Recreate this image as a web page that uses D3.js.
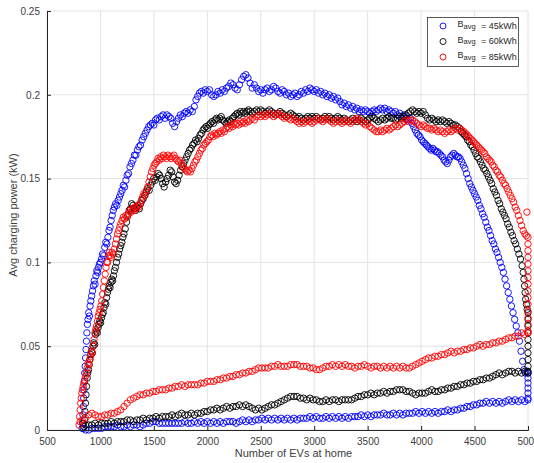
<!DOCTYPE html>
<html>
<head>
<meta charset="utf-8">
<script src="https://cdn.jsdelivr.net/npm/d3@7"></script>
<style>
  html, body { margin: 0; padding: 0; background: #fff; }
  svg { display: block; }
  text { font-family: "Liberation Sans", Arial, Helvetica, sans-serif; }
</style>
</head>
<body>
<svg id="chart" width="534" height="463"></svg>
<script>
// Axis ticks
const xTicks = [500, 1000, 1500, 2000, 2500, 3000, 3500, 4000, 4500, 5000];
const yTicks = [0, 0.05, 0.1, 0.15, 0.2, 0.25];
const yTickLabels = ["0", "0.05", "0.1", "0.15", "0.2", "0.25"];

// Series legend entries
const seriesNames = ["45kWh", "60kWh", "85kWh"];
const seriesColors = ["#0000ff", "#000000", "#ff0000"];

// B_avg = 45kWh : [EVs at home, avg charging power kW]
const blueUpper = [
  [828,.001],[832,.004],[836,.009],[840,.014],[843,.019],[846,.024],[850,.029],[853,.034],[857,.038],[861,.043],
  [865,.048],[869,.053],[873,.058],[878,.063],[884,.066],[890,.070],[897,.068],[903,.074],[910,.077],[918,.080],
  [926,.083],[934,.086],[942,.089],[950,.087],[958,.092],[966,.095],[974,.094],[982,.097],[990,.099],[1000,.100],
  [1010,.102],[1020,.105],[1030,.104],[1040,.109],[1050,.112],[1060,.111],[1070,.115],[1080,.119],[1090,.121],[1100,.125],
  [1110,.128],[1120,.131],[1130,.133],[1142,.135],[1154,.134],[1166,.137],[1178,.139],[1190,.141],[1202,.143],[1214,.146],
  [1226,.145],[1238,.149],[1250,.152],[1263,.153],[1276,.157],[1290,.159],[1304,.161],[1318,.164],[1332,.164],[1346,.167],
  [1360,.169],[1375,.170],[1390,.173],[1405,.175],[1420,.177],[1436,.179],[1452,.181],[1468,.182],[1484,.183],[1500,.182],
  [1516,.185],[1532,.186],[1550,.185],[1568,.187],[1586,.188],[1604,.186],[1622,.188],[1640,.187],[1658,.186],[1676,.183],
  [1694,.181],[1712,.184],[1730,.186],[1748,.188],[1766,.187],[1784,.189],[1802,.190],[1820,.189],[1840,.191],[1860,.190],
  [1878,.193],[1894,.197],[1910,.199],[1926,.201],[1944,.202],[1962,.201],[1980,.203],[2000,.202],[2020,.203],[2040,.200],
  [2060,.199],[2080,.200],[2100,.202],[2120,.201],[2140,.203],[2160,.202],[2180,.204],[2200,.205],[2220,.207],[2240,.206],
  [2260,.204],[2280,.203],[2300,.206],[2320,.209],[2340,.211],[2360,.212],[2380,.210],[2400,.207],[2420,.204],[2440,.206],
  [2460,.204],[2480,.202],[2500,.203],[2520,.201],[2540,.203],[2560,.204],[2580,.202],[2600,.203],[2620,.205],[2640,.204],
  [2660,.202],[2680,.201],[2700,.203],[2720,.202],[2740,.200],[2760,.201],[2780,.199],[2800,.200],[2820,.201],[2840,.199],
  [2860,.200],[2880,.202],[2900,.201],[2920,.203],[2940,.202],[2960,.204],[2980,.203],[3000,.202],[3020,.203],[3040,.201],
  [3060,.202],[3080,.200],[3100,.201],[3120,.199],[3140,.200],[3160,.198],[3180,.199],[3200,.197],[3220,.198],[3240,.196],
  [3260,.194],[3280,.195],[3300,.193],[3320,.194],[3340,.192],[3360,.193],[3380,.191],[3400,.192],[3420,.190],[3440,.191],
  [3460,.190],[3480,.191],[3500,.190],[3520,.189],[3540,.190],[3560,.191],[3580,.190],[3600,.191],[3620,.192],[3640,.191],
  [3660,.192],[3680,.190],[3700,.191],[3720,.190],[3740,.189],[3760,.190],[3780,.188],[3800,.189],[3820,.187],[3840,.188],
  [3860,.186],[3880,.185],[3900,.186],[3915,.183],[3930,.181],[3945,.179],[3960,.177],[3975,.176],[3990,.175],[4005,.173],
  [4020,.172],[4035,.171],[4050,.170],[4065,.169],[4080,.168],[4095,.167],[4110,.168],[4125,.167],[4140,.166],[4155,.166],
  [4170,.165],[4185,.164],[4200,.163],[4215,.161],[4230,.160],[4245,.159],[4260,.161],[4275,.163],[4290,.164],[4305,.165],
  [4320,.164],[4335,.163],[4350,.163],[4365,.162],[4380,.160],[4395,.158],[4410,.156],[4425,.153],[4440,.150],[4455,.147],
  [4470,.145],[4485,.143],[4500,.141],[4515,.139],[4530,.137],[4545,.134],[4560,.132],[4575,.129],[4590,.127],[4605,.124],
  [4620,.121],[4635,.119],[4650,.116],[4665,.113],[4680,.111],[4695,.108],[4710,.106],[4725,.103],[4740,.100],[4755,.097],
  [4770,.094],[4785,.090],[4800,.086],[4815,.082],[4830,.078],[4845,.074],[4860,.070],[4875,.066],[4890,.062],[4905,.058],
  [4920,.053],[4935,.047],[4950,.041],[4962,.036],[4975,.034],[4990,.035],[5000,.034],[5000,.031],[5000,.028],[5000,.025],
  [5000,.022],[5000,.019]
];
const blueLower = [
  [5000,.018],[4970,.017],[4940,.018],[4910,.017],[4880,.018],[4850,.017],[4820,.018],[4790,.017],[4760,.016],[4730,.017],
  [4700,.016],[4670,.017],[4640,.016],[4610,.017],[4580,.016],[4550,.016],[4520,.015],[4490,.015],[4460,.014],[4430,.014],
  [4400,.013],[4370,.013],[4340,.012],[4310,.012],[4280,.011],[4250,.012],[4220,.011],[4190,.011],[4160,.010],[4130,.011],
  [4100,.010],[4070,.011],[4040,.010],[4010,.011],[3980,.010],[3950,.011],[3920,.010],[3890,.010],[3860,.010],[3830,.009],
  [3800,.010],[3770,.009],[3740,.010],[3710,.009],[3680,.009],[3650,.010],[3620,.009],[3590,.009],[3560,.009],[3530,.008],
  [3500,.009],[3470,.008],[3440,.009],[3410,.008],[3380,.008],[3350,.008],[3320,.007],[3290,.008],[3260,.007],[3230,.008],
  [3200,.007],[3170,.008],[3140,.007],[3110,.008],[3080,.007],[3050,.007],[3020,.008],[2990,.007],[2960,.008],[2930,.007],
  [2900,.007],[2870,.007],[2840,.006],[2810,.007],[2780,.006],[2750,.007],[2720,.006],[2690,.007],[2660,.006],[2630,.007],
  [2600,.006],[2570,.007],[2540,.006],[2510,.007],[2480,.006],[2450,.006],[2420,.005],[2390,.006],[2360,.005],[2330,.006],
  [2300,.005],[2270,.004],[2240,.005],[2210,.005],[2180,.005],[2150,.004],[2120,.005],[2090,.004],[2060,.005],[2030,.004],
  [2000,.005],[1970,.004],[1940,.005],[1910,.004],[1880,.005],[1850,.004],[1820,.004],[1790,.005],[1760,.004],[1730,.004],
  [1700,.004],[1670,.004],[1640,.004],[1610,.004],[1580,.004],[1550,.004],[1520,.005],[1490,.005],[1460,.004],[1430,.004],
  [1400,.003],[1370,.002],[1340,.003],[1310,.003],[1280,.002],[1250,.003],[1220,.002],[1190,.002],[1160,.003],[1130,.002],
  [1100,.002],[1070,.002],[1040,.002],[1010,.001],[980,.001],[950,.001],[920,.001],[890,0],[860,0],[840,.001]
];

// B_avg = 60kWh
const blackUpper = [
  [845,.002],[850,.006],[855,.011],[860,.016],[865,.021],[870,.026],[876,.031],[882,.034],[888,.036],[895,.039],
  [902,.042],[909,.045],[916,.047],[923,.046],[930,.050],[938,.052],[946,.051],[954,.057],[962,.059],[970,.058],
  [978,.061],[986,.063],[994,.065],[1002,.064],[1010,.067],[1018,.069],[1026,.070],[1034,.073],[1042,.076],[1050,.075],
  [1058,.079],[1066,.082],[1074,.084],[1082,.086],[1090,.085],[1098,.088],[1106,.090],[1114,.089],[1122,.092],[1130,.095],
  [1140,.097],[1150,.100],[1160,.103],[1170,.105],[1180,.108],[1190,.110],[1200,.112],[1210,.115],[1220,.117],[1232,.120],
  [1244,.124],[1256,.128],[1268,.131],[1280,.132],[1292,.135],[1304,.134],[1316,.132],[1328,.131],[1340,.133],[1352,.134],
  [1364,.132],[1376,.135],[1388,.137],[1400,.138],[1414,.140],[1428,.142],[1442,.144],[1456,.143],[1470,.146],[1484,.148],
  [1498,.150],[1512,.149],[1526,.151],[1540,.153],[1554,.152],[1568,.150],[1582,.147],[1596,.145],[1610,.148],[1624,.150],
  [1638,.152],[1652,.155],[1666,.154],[1680,.151],[1694,.148],[1708,.147],[1722,.149],[1736,.152],[1750,.155],[1764,.157],
  [1778,.159],[1792,.161],[1806,.163],[1820,.165],[1834,.167],[1848,.168],[1862,.170],[1876,.171],[1890,.173],[1904,.172],
  [1918,.174],[1932,.176],[1946,.177],[1960,.179],[1974,.180],[1988,.181],[2002,.180],[2016,.182],[2030,.183],[2044,.184],
  [2058,.183],[2072,.185],[2086,.186],[2100,.185],[2115,.186],[2130,.187],[2145,.185],[2160,.184],[2175,.183],[2190,.184],
  [2205,.185],[2220,.184],[2235,.186],[2250,.187],[2265,.188],[2280,.189],[2295,.188],[2310,.190],[2325,.189],[2340,.190],
  [2355,.189],[2370,.190],[2385,.191],[2400,.190],[2420,.189],[2440,.190],[2460,.191],[2480,.190],[2500,.191],[2520,.190],
  [2540,.189],[2560,.190],[2580,.191],[2600,.190],[2620,.189],[2640,.188],[2660,.189],[2680,.190],[2700,.189],[2720,.188],
  [2740,.187],[2760,.188],[2780,.189],[2800,.188],[2820,.187],[2840,.186],[2860,.187],[2880,.186],[2900,.185],[2920,.186],
  [2940,.187],[2960,.186],[2980,.187],[3000,.186],[3020,.187],[3040,.186],[3060,.185],[3080,.186],[3100,.187],[3120,.186],
  [3140,.187],[3160,.186],[3180,.185],[3200,.186],[3220,.187],[3240,.186],[3260,.185],[3280,.186],[3300,.185],[3320,.184],
  [3340,.185],[3360,.186],[3380,.185],[3400,.184],[3420,.185],[3440,.186],[3460,.185],[3480,.184],[3500,.185],[3520,.186],
  [3540,.187],[3560,.186],[3580,.185],[3600,.184],[3620,.185],[3640,.186],[3660,.185],[3680,.186],[3700,.187],[3720,.186],
  [3740,.186],[3760,.185],[3780,.186],[3800,.187],[3820,.186],[3840,.187],[3860,.188],[3880,.189],[3900,.190],[3920,.191],
  [3940,.190],[3960,.189],[3980,.190],[4000,.189],[4020,.190],[4040,.188],[4060,.186],[4080,.185],[4100,.186],[4120,.185],
  [4140,.184],[4160,.185],[4180,.184],[4200,.185],[4220,.184],[4240,.183],[4260,.184],[4280,.183],[4300,.182],[4320,.182],
  [4340,.181],[4360,.180],[4375,.178],[4390,.177],[4405,.176],[4420,.175],[4435,.173],[4450,.172],[4465,.170],[4480,.169],
  [4495,.167],[4510,.165],[4525,.163],[4540,.162],[4555,.160],[4570,.158],[4585,.156],[4600,.155],[4615,.153],[4630,.151],
  [4645,.149],[4660,.147],[4675,.144],[4690,.142],[4705,.140],[4720,.137],[4735,.135],[4750,.132],[4765,.130],[4780,.128],
  [4795,.126],[4810,.123],[4825,.121],[4840,.118],[4855,.116],[4870,.113],[4885,.111],[4900,.108],[4915,.105],[4930,.102],
  [4945,.098],[4955,.094],[4962,.090],[4968,.086],[4973,.082],[4978,.078],[4985,.075],[4992,.072],[5000,.070],[5000,.066],
  [5000,.062],[5000,.058],[5000,.054],[5000,.050],[5000,.046],[5000,.042],[5000,.038],[5000,.035]
];
const blackLower = [
  [5000,.034],[4970,.035],[4940,.034],[4910,.035],[4880,.034],[4850,.035],[4820,.035],[4790,.034],[4760,.033],[4730,.034],
  [4700,.033],[4670,.032],[4640,.031],[4610,.031],[4580,.030],[4550,.030],[4520,.029],[4490,.029],[4460,.028],[4430,.028],
  [4400,.027],[4370,.027],[4340,.026],[4310,.026],[4280,.025],[4250,.025],[4220,.024],[4190,.024],[4160,.023],[4130,.023],
  [4100,.024],[4070,.023],[4040,.022],[4010,.022],[3980,.022],[3950,.021],[3920,.022],[3890,.023],[3860,.023],[3830,.024],
  [3800,.024],[3770,.024],[3740,.023],[3710,.023],[3680,.022],[3650,.023],[3620,.022],[3590,.022],[3560,.021],[3530,.022],
  [3500,.021],[3470,.021],[3440,.020],[3410,.020],[3380,.019],[3350,.018],[3320,.018],[3290,.018],[3260,.018],[3230,.017],
  [3200,.018],[3170,.018],[3140,.017],[3110,.018],[3080,.017],[3050,.017],[3020,.018],[2990,.018],[2960,.019],[2930,.018],
  [2900,.019],[2870,.019],[2840,.020],[2810,.020],[2780,.020],[2750,.019],[2720,.018],[2690,.017],[2660,.016],[2630,.015],
  [2600,.015],[2570,.014],[2540,.013],[2510,.012],[2480,.013],[2450,.012],[2420,.013],[2390,.014],[2360,.015],[2330,.014],
  [2300,.015],[2270,.014],[2240,.014],[2210,.013],[2180,.014],[2150,.013],[2120,.012],[2090,.013],[2060,.012],[2030,.012],
  [2000,.011],[1970,.011],[1940,.010],[1910,.010],[1880,.009],[1850,.010],[1820,.009],[1790,.009],[1760,.010],[1730,.009],
  [1700,.008],[1670,.009],[1640,.008],[1610,.008],[1580,.008],[1550,.007],[1520,.008],[1490,.007],[1460,.007],[1430,.006],
  [1400,.007],[1370,.006],[1340,.006],[1310,.005],[1280,.006],[1250,.006],[1220,.005],[1190,.005],[1160,.005],[1130,.004],
  [1100,.005],[1070,.004],[1040,.004],[1010,.004],[980,.003],[950,.004],[920,.003],[890,.003],[860,.003],[840,.004]
];

// B_avg = 85kWh
const redUpper = [
  [800,.003],[805,.008],[810,.012],[815,.016],[820,.019],[826,.022],[832,.024],[838,.026],[845,.028],[852,.030],
  [860,.032],[868,.034],[876,.037],[884,.040],[892,.039],[900,.042],[908,.044],[916,.047],[924,.046],[932,.050],
  [940,.054],[948,.058],[956,.060],[964,.062],[972,.065],[980,.068],[988,.070],[996,.072],[1004,.074],[1012,.077],
  [1020,.081],[1028,.085],[1036,.089],[1044,.093],[1052,.097],[1060,.100],[1068,.100],[1076,.104],[1084,.106],[1092,.104],
  [1100,.103],[1110,.106],[1120,.105],[1130,.108],[1140,.111],[1150,.114],[1160,.117],[1170,.119],[1180,.121],[1190,.123],
  [1202,.125],[1214,.127],[1226,.126],[1238,.128],[1250,.127],[1262,.129],[1274,.131],[1286,.130],[1298,.132],[1310,.131],
  [1322,.133],[1334,.132],[1346,.134],[1358,.133],[1370,.135],[1382,.137],[1394,.139],[1406,.141],[1418,.140],[1430,.143],
  [1442,.145],[1454,.148],[1466,.151],[1478,.154],[1490,.156],[1502,.158],[1514,.159],[1526,.160],[1538,.162],[1550,.161],
  [1562,.163],[1576,.162],[1590,.164],[1604,.163],[1618,.162],[1632,.164],[1646,.163],[1660,.162],[1674,.163],[1688,.164],
  [1702,.162],[1716,.161],[1730,.160],[1744,.161],[1758,.159],[1772,.157],[1786,.156],[1800,.155],[1814,.154],[1828,.155],
  [1842,.154],[1856,.156],[1870,.158],[1884,.160],[1898,.161],[1912,.163],[1926,.165],[1940,.167],[1954,.168],[1968,.170],
  [1982,.171],[1996,.172],[2010,.173],[2025,.175],[2040,.176],[2055,.175],[2070,.177],[2085,.176],[2100,.177],[2115,.178],
  [2130,.177],[2145,.179],[2160,.178],[2175,.180],[2190,.181],[2205,.180],[2220,.182],[2235,.181],[2250,.183],[2265,.182],
  [2280,.183],[2295,.182],[2310,.184],[2325,.183],[2340,.184],[2355,.183],[2370,.185],[2385,.184],[2400,.185],[2420,.186],
  [2440,.185],[2460,.187],[2480,.188],[2500,.187],[2520,.188],[2540,.187],[2560,.188],[2580,.189],[2600,.188],[2620,.187],
  [2640,.188],[2660,.189],[2680,.188],[2700,.187],[2720,.186],[2740,.187],[2760,.186],[2780,.185],[2800,.186],[2820,.185],
  [2840,.184],[2860,.183],[2880,.184],[2900,.183],[2920,.184],[2940,.185],[2960,.184],[2980,.183],[3000,.184],[3020,.185],
  [3040,.186],[3060,.185],[3080,.184],[3100,.185],[3120,.186],[3140,.185],[3160,.184],[3180,.183],[3200,.184],[3220,.185],
  [3240,.184],[3260,.183],[3280,.184],[3300,.185],[3320,.184],[3340,.183],[3360,.184],[3380,.185],[3400,.186],[3420,.185],
  [3440,.184],[3460,.183],[3480,.182],[3500,.183],[3520,.181],[3540,.180],[3560,.179],[3580,.178],[3600,.178],[3620,.179],
  [3640,.178],[3660,.179],[3680,.180],[3700,.179],[3720,.180],[3740,.181],[3760,.182],[3780,.181],[3800,.182],[3820,.183],
  [3840,.184],[3860,.185],[3880,.184],[3900,.185],[3920,.185],[3940,.184],[3960,.183],[3980,.182],[4000,.181],[4020,.182],
  [4040,.181],[4060,.180],[4080,.180],[4100,.179],[4120,.180],[4140,.179],[4160,.178],[4180,.179],[4200,.178],[4220,.177],
  [4240,.178],[4260,.179],[4280,.178],[4300,.179],[4320,.180],[4340,.179],[4360,.180],[4380,.179],[4400,.178],[4415,.177],
  [4430,.176],[4445,.175],[4460,.174],[4475,.173],[4490,.172],[4505,.171],[4520,.170],[4535,.169],[4550,.168],[4565,.167],
  [4580,.166],[4595,.165],[4610,.163],[4625,.162],[4640,.161],[4655,.160],[4670,.158],[4685,.157],[4700,.155],[4715,.154],
  [4730,.152],[4745,.151],[4760,.149],[4775,.147],[4790,.146],[4805,.144],[4820,.142],[4835,.140],[4850,.138],[4865,.136],
  [4880,.133],[4895,.131],[4910,.128],[4925,.125],[4940,.122],[4955,.119],[4970,.117],[4985,.116],[5000,.115],[4990,.130],
  [5000,.111],[5000,.107],[5000,.103],[5000,.099],[5000,.095],[5000,.091],[5000,.087],[5000,.083],[5000,.079],[5000,.075],
  [5000,.071],[5000,.067],[5000,.063],[5000,.059]
];
const redLower = [
  [5000,.058],[4970,.057],[4940,.058],[4910,.056],[4880,.056],[4850,.055],[4820,.055],[4790,.054],[4760,.053],[4730,.053],
  [4700,.052],[4670,.052],[4640,.051],[4610,.051],[4580,.050],[4550,.051],[4520,.050],[4490,.049],[4460,.049],[4430,.048],
  [4400,.048],[4370,.047],[4340,.047],[4310,.046],[4280,.047],[4250,.046],[4220,.045],[4190,.045],[4160,.044],[4130,.044],
  [4100,.043],[4070,.043],[4040,.042],[4010,.041],[3980,.040],[3950,.039],[3920,.038],[3890,.037],[3860,.037],[3830,.038],
  [3800,.037],[3770,.038],[3740,.037],[3710,.038],[3680,.037],[3650,.038],[3620,.037],[3590,.038],[3560,.038],[3530,.037],
  [3500,.038],[3470,.039],[3440,.038],[3410,.038],[3380,.037],[3350,.038],[3320,.038],[3290,.039],[3260,.038],[3230,.039],
  [3200,.038],[3170,.039],[3140,.038],[3110,.038],[3080,.037],[3050,.036],[3020,.036],[2990,.037],[2960,.037],[2930,.038],
  [2900,.038],[2870,.038],[2840,.039],[2810,.039],[2780,.039],[2750,.038],[2720,.038],[2690,.038],[2660,.039],[2630,.038],
  [2600,.038],[2570,.037],[2540,.037],[2510,.037],[2480,.037],[2450,.036],[2420,.035],[2390,.035],[2360,.034],[2330,.034],
  [2300,.033],[2270,.033],[2240,.032],[2210,.032],[2180,.031],[2150,.031],[2120,.030],[2090,.030],[2060,.029],[2030,.029],
  [2000,.029],[1970,.028],[1940,.028],[1910,.027],[1880,.027],[1850,.027],[1820,.027],[1790,.026],[1760,.027],[1730,.026],
  [1700,.026],[1670,.025],[1640,.025],[1610,.024],[1580,.024],[1550,.024],[1520,.023],[1490,.023],[1460,.022],[1430,.022],
  [1400,.021],[1370,.021],[1340,.020],[1310,.019],[1280,.018],[1250,.016],[1220,.014],[1190,.012],[1160,.011],[1130,.010],
  [1100,.010],[1070,.009],[1040,.009],[1010,.008],[980,.008],[950,.009],[920,.010],[890,.009],[860,.007],[830,.006],[810,.005]
];

const seriesData = [
  blueUpper.concat(blueLower),
  blackUpper.concat(blackLower),
  redUpper.concat(redLower)
];

const svg = d3.select("#chart");
const plot = { left: 47, right: 528, top: 11, bottom: 430 };

const x = d3.scaleLinear().domain([500, 5000]).range([plot.left, plot.right]);
const y = d3.scaleLinear().domain([0, 0.25]).range([plot.bottom, plot.top]);

const axisColor = "#262626";
const textColor = "#404040";

// grid
const grid = svg.append("g").attr("stroke", "#e3e3e3").attr("stroke-width", 1);
grid.selectAll("line.vx").data(xTicks).join("line")
  .attr("x1", d => x(d)).attr("x2", d => x(d))
  .attr("y1", plot.top).attr("y2", plot.bottom);
grid.selectAll("line.hy").data(yTicks).join("line")
  .attr("x1", plot.left).attr("x2", plot.right)
  .attr("y1", d => y(d)).attr("y2", d => y(d));

// scatter markers
seriesData.forEach((pts, i) => {
  svg.append("g")
    .attr("fill", "none")
    .attr("stroke", seriesColors[i])
    .attr("stroke-width", 0.9)
    .selectAll("circle").data(pts).join("circle")
    .attr("cx", d => x(d[0]))
    .attr("cy", d => y(d[1]))
    .attr("r", 3.2);
});

// axes (ticks pointing inward)
const xAxis = d3.axisBottom(x).tickValues(xTicks).tickSize(-4).tickPadding(8).tickFormat(d3.format("d"));
const yAxis = d3.axisLeft(y).tickValues(yTicks).tickSize(-4).tickPadding(7)
  .tickFormat((d, i) => yTickLabels[i]);

const gx = svg.append("g").attr("transform", `translate(0,${plot.bottom})`).call(xAxis);
const gy = svg.append("g").attr("transform", `translate(${plot.left},0)`).call(yAxis);
[gx, gy].forEach(g => {
  g.select(".domain").attr("stroke", axisColor).attr("stroke-width", 1);
  g.selectAll(".tick line").attr("stroke", axisColor);
  g.selectAll(".tick text")
    .attr("fill", textColor)
    .style("font-family", "'Liberation Sans', Arial, sans-serif")
    .style("font-size", "10px");
});

// axis titles
svg.append("text")
  .attr("x", (plot.left + plot.right) / 2 + 6)
  .attr("y", 457)
  .attr("text-anchor", "middle")
  .attr("fill", textColor)
  .style("font-size", "11px")
  .text("Number of EVs at home");

svg.append("text")
  .attr("transform", `translate(17,${215}) rotate(-90)`)
  .attr("text-anchor", "middle")
  .attr("fill", textColor)
  .style("font-size", "11px")
  .text("Avg charging power (kW)");

// legend
const legend = svg.append("g");
legend.append("rect")
  .attr("x", 427.5).attr("y", 17.5).attr("width", 91).attr("height", 49)
  .attr("fill", "#fff").attr("stroke", "#333").attr("stroke-width", 0.8);

seriesNames.forEach((name, i) => {
  const cy = 26 + i * 15.5;
  legend.append("circle")
    .attr("cx", 443).attr("cy", cy).attr("r", 3)
    .attr("fill", "none").attr("stroke", seriesColors[i]).attr("stroke-width", 0.9);
  const t = legend.append("text")
    .attr("x", 457.5).attr("y", cy + 1)
    .attr("fill", "#262626")
    .style("font-size", "9px");
  t.append("tspan").text("B");
  t.append("tspan").attr("dy", 1.5).style("font-size", "7.5px").text("avg");
  legend.append("text")
    .attr("x", 481).attr("y", cy + 2.5)
    .attr("fill", "#262626")
    .style("font-size", "9px")
    .text("= " + name);
});
</script>
</body>
</html>
